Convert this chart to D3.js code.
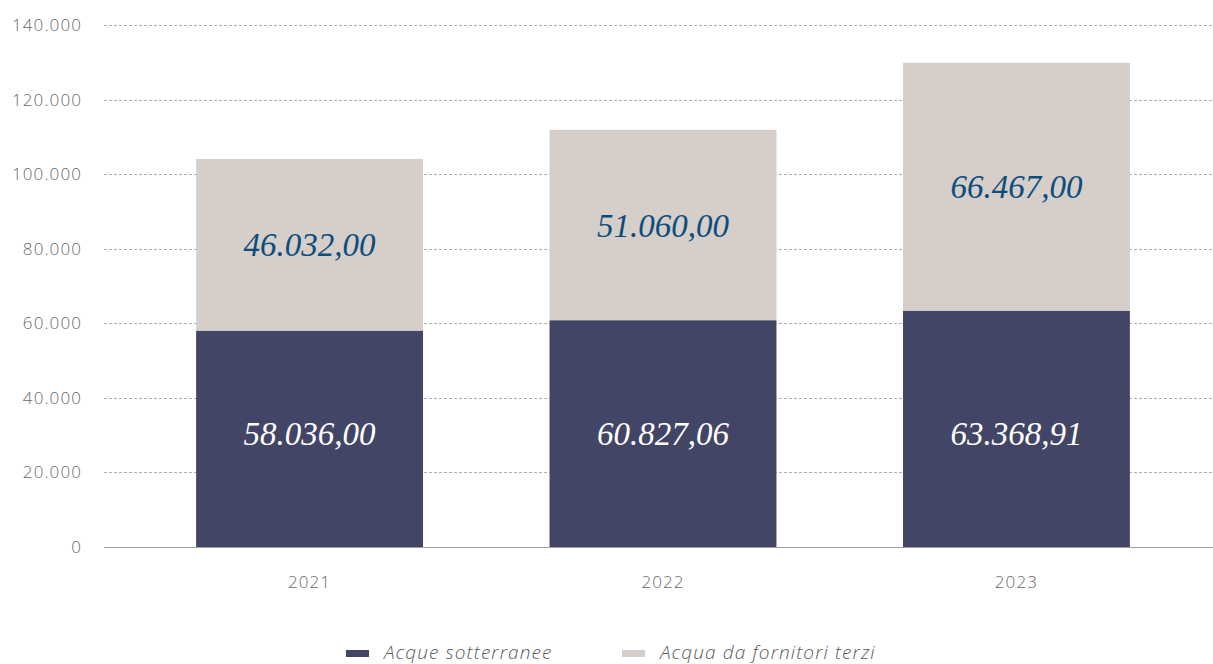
<!DOCTYPE html>
<html>
<head>
<meta charset="utf-8">
<script src="https://cdn.jsdelivr.net/npm/d3@7"></script>
<style>
  html, body { margin: 0; padding: 0; background: #fff; }
  svg { display: block; }
</style>
</head>
<body>
<svg id="chart" width="1213" height="664"></svg>
<script>
// Chart data
const years = ["2021", "2022", "2023"];
const acqueSotterranee = [58036.00, 60827.06, 63368.91];
const acquaFornitori = [46032.00, 51060.00, 66467.00];
const yTicks = [0, 20000, 40000, 60000, 80000, 100000, 120000, 140000];
const seriesNames = ["Acque sotterranee", "Acqua da fornitori terzi"];
const seriesColors = ["#424566", "#d5cec9"];

const svg = d3.select("#chart");
const plotLeft = 104, plotRight = 1213;

// Scales
const x = d3.scaleBand().domain(years).range([112, 1214]).paddingInner(0.358).paddingOuter(0.238);
const y = d3.scaleLinear().domain([0, 140000]).range([547, 25]);

const itFmt = d3.formatLocale({decimal: ",", thousands: ".", grouping: [3], currency: ["€", ""]});
const tickFmt = itFmt.format(",.0f");
const valFmt = itFmt.format(",.2f");

// Grid lines
svg.append("g").selectAll("line")
    .data(yTicks.filter(d => d > 0))
    .join("line")
    .attr("x1", plotLeft).attr("x2", plotRight)
    .attr("y1", d => Math.round(y(d)) + 0.5).attr("y2", d => Math.round(y(d)) + 0.5)
    .attr("stroke", "#b0b0b0").attr("stroke-width", 1)
    .attr("stroke-dasharray", "3,2");

// Y tick labels
svg.append("g").selectAll("text")
    .data(yTicks)
    .join("text")
    .attr("x", 82).attr("y", d => y(d))
    .attr("dy", "0.35em")
    .attr("text-anchor", "end")
    .attr("font-family", "Open Sans, sans-serif")
    .attr("font-weight", 300)
    .attr("font-size", 17)
    .attr("letter-spacing", 1.1)
    .attr("fill", "#6a6a6a")
    .text(d => tickFmt(d));

// Stacked bars
const rows = years.map((yr, i) => ({year: yr, a: acqueSotterranee[i], b: acquaFornitori[i]}));
const stack = d3.stack().keys(["a", "b"])(rows);

svg.append("g").selectAll("g")
    .data(stack)
    .join("g")
    .attr("fill", (d, i) => seriesColors[i])
    .selectAll("rect")
    .data(d => d)
    .join("rect")
    .attr("x", d => x(d.data.year))
    .attr("width", x.bandwidth())
    .attr("y", d => y(d[1]))
    .attr("height", d => y(d[0]) - y(d[1]));

// Baseline axis
svg.append("line")
    .attr("x1", plotLeft).attr("x2", plotRight)
    .attr("y1", y(0) + 0.5).attr("y2", y(0) + 0.5)
    .attr("stroke", "#a0a0a0").attr("stroke-width", 1);

// X labels
svg.append("g").selectAll("text")
    .data(years)
    .join("text")
    .attr("x", d => x(d) + x.bandwidth() / 2)
    .attr("y", 588)
    .attr("text-anchor", "middle")
    .attr("font-family", "Open Sans, sans-serif")
    .attr("font-weight", 300)
    .attr("font-size", 17)
    .attr("letter-spacing", 1.1)
    .attr("fill", "#6a6a6a")
    .text(d => d);

// Value labels: lower ones sit on a common line, upper ones in the middle of their segment
const lowerLabelY = y(d3.mean(acqueSotterranee) / 2);
const labelG = svg.append("g")
    .attr("font-family", "Liberation Serif, Times New Roman, serif")
    .attr("font-style", "italic")
    .attr("font-size", 33)
    .attr("text-anchor", "middle");

labelG.selectAll("text.lower")
    .data(rows)
    .join("text")
    .attr("class", "lower")
    .attr("x", d => x(d.year) + x.bandwidth() / 2)
    .attr("y", lowerLabelY)
    .attr("dy", "0.35em")
    .attr("fill", "#ffffff")
    .text(d => valFmt(d.a));

labelG.selectAll("text.upper")
    .data(rows)
    .join("text")
    .attr("class", "upper")
    .attr("x", d => x(d.year) + x.bandwidth() / 2)
    .attr("y", d => y(d.a + d.b / 2))
    .attr("dy", "0.35em")
    .attr("fill", "#0c4d7d")
    .text(d => valFmt(d.b));

// Legend
const legendX = [346, 622];
const legend = svg.append("g").selectAll("g")
    .data(seriesNames)
    .join("g")
    .attr("transform", (d, i) => `translate(${legendX[i]},650)`);
legend.append("rect")
    .attr("width", 23).attr("height", 7)
    .attr("fill", (d, i) => seriesColors[i]);
legend.append("text")
    .attr("x", 38).attr("y", 9)
    .attr("font-family", "Open Sans, sans-serif")
    .attr("font-style", "italic")
    .attr("font-weight", 300)
    .attr("font-size", 19)
    .attr("letter-spacing", 1.1)
    .attr("fill", "#5a5a5a")
    .text(d => d);
</script>
</body>
</html>
